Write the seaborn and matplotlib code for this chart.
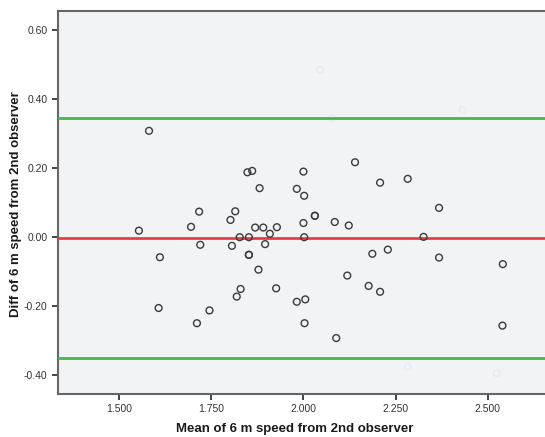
import matplotlib
matplotlib.use("Agg")
import matplotlib.pyplot as plt
import seaborn as sns
import pandas as pd
from matplotlib.ticker import FixedLocator, FixedFormatter

# ---- data ----
mean_speed = [1.581, 1.5535, 1.6105, 1.607, 1.695, 1.720, 1.717, 1.711, 1.745,
              1.802, 1.815, 1.806, 1.827, 1.819, 1.8295, 1.848, 1.861, 1.852,
              1.852, 1.852, 1.869, 1.881, 1.878, 1.891, 1.896, 1.909, 1.928,
              1.926, 1.982, 1.982, 2.000, 2.002, 2.000, 2.002, 2.005, 2.003,
              2.031, 2.031, 2.085, 2.089, 2.123, 2.119, 2.140, 2.177, 2.187,
              2.208, 2.208, 2.229, 2.283, 2.326, 2.368, 2.368, 2.541, 2.540]
diff_speed = [0.308, 0.019, -0.058, -0.205, 0.030, -0.022, 0.074, -0.249, -0.212,
              0.050, 0.075, -0.025, 0.000, -0.172, -0.150, 0.188, 0.192, 0.000,
              -0.051, -0.051, 0.028, 0.142, -0.094, 0.028, -0.020, 0.010, 0.029,
              -0.148, 0.140, -0.187, 0.190, 0.120, 0.041, 0.000, -0.180, -0.249,
              0.062, 0.062, 0.044, -0.292, 0.034, -0.111, 0.217, -0.141, -0.048,
              0.158, -0.158, -0.036, 0.169, 0.001, 0.085, -0.059, -0.078, -0.256]

# faint (barely visible) markers in the reference
faint_mean = [2.045, 2.432, 2.0765, 2.283, 2.5245]
faint_diff = [0.484, 0.368, 0.345, -0.375, -0.394]

mean_diff = -0.003
upper_loa = 0.345
lower_loa = -0.351

x_ticks = [1.5, 1.75, 2.0, 2.25, 2.5]
x_tick_labels = ["1.500", "1.750", "2.000", "2.250", "2.500"]
y_ticks = [-0.4, -0.2, 0.0, 0.2, 0.4, 0.6]
y_tick_labels = ["-0.40", "-0.20", "0.00", "0.20", "0.40", "0.60"]

x_label = "Mean of 6 m speed from 2nd observer"
y_label = "Diff of 6 m speed from 2nd observer"

df = pd.DataFrame({"mean": mean_speed, "diff": diff_speed})
df_faint = pd.DataFrame({"mean": faint_mean, "diff": faint_diff})

# ---- drawing ----
sns.set_style("white")
plt.rcParams["font.family"] = ["Liberation Sans", "DejaVu Sans"]
plt.rcParams["axes.unicode_minus"] = False

fig = plt.figure(figsize=(5.45, 4.37), dpi=100)
ax = fig.add_axes([58 / 545, 1 - 394 / 437, 1 - 58 / 545, (394 - 11) / 437])
ax.set_facecolor("#f2f3f5")

sns.scatterplot(data=df_faint, x="mean", y="diff", ax=ax, s=22,
                edgecolor="#e0ebf2", linewidth=0.9, zorder=2)
ax.collections[-1].set_facecolor("none")

ax.axhline(upper_loa, color="#48b749", lw=2.0, zorder=3)
ax.axhline(lower_loa, color="#48b749", lw=2.0, zorder=3)
ax.axhline(mean_diff, color="#ec3d44", lw=2.0, zorder=3)

sns.scatterplot(data=df, x="mean", y="diff", ax=ax, s=24,
                edgecolor="#3a3a3a", linewidth=1.0, zorder=4)
ax.collections[-1].set_facecolor("none")

ax.set_xlim(1.334, 2.6555)
ax.set_ylim(-0.454, 0.655)

ax.xaxis.set_major_locator(FixedLocator(x_ticks))
ax.xaxis.set_major_formatter(FixedFormatter(x_tick_labels))
ax.yaxis.set_major_locator(FixedLocator(y_ticks))
ax.yaxis.set_major_formatter(FixedFormatter(y_tick_labels))

ax.tick_params(axis="both", which="major", direction="out", length=4.5,
               width=1.2, color="#222222", labelsize=7.5, labelcolor="#333333",
               bottom=True, left=True, pad=3)

for side in ["left", "bottom", "top"]:
    ax.spines[side].set_color("#666666")
    ax.spines[side].set_linewidth(1.5)
ax.spines["right"].set_visible(False)

ax.set_xlabel(x_label, fontsize=9.5, fontweight="bold", color="#1a1a1a")
ax.set_ylabel(y_label, fontsize=9.5, fontweight="bold", color="#1a1a1a")
ax.xaxis.set_label_coords((295 - 58) / (545 - 58), -(423 - 394) / (394 - 11))
ax.yaxis.set_label_coords(-(58 - 22) / (545 - 58), (394 - 204) / (394 - 11))

fig.savefig("out.png", dpi=100, facecolor="white")
